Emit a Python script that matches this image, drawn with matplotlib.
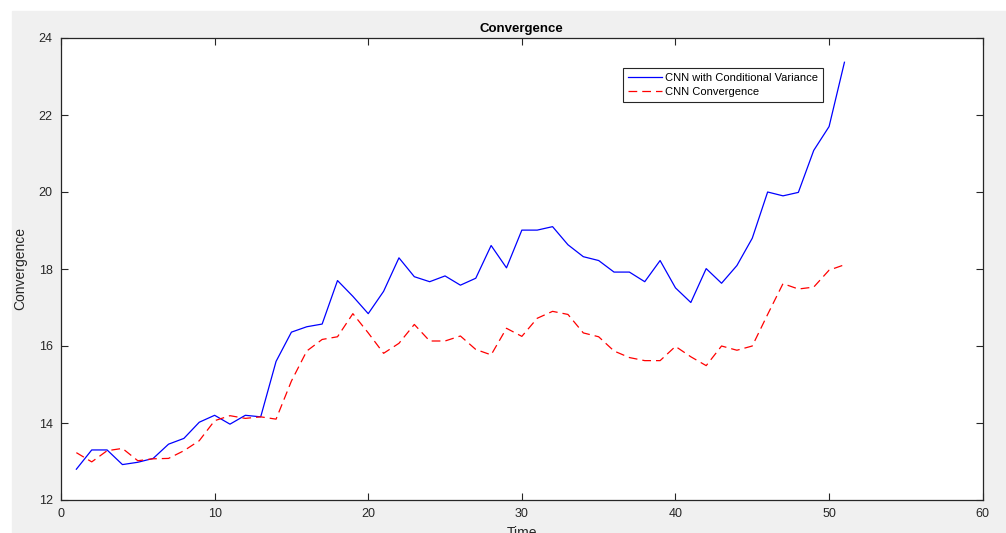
import numpy as np
import matplotlib
matplotlib.use("Agg")
import matplotlib.pyplot as plt
from matplotlib.patches import Rectangle

# valores (t = 1..51)
tempo = list(range(1, 52))
cnn_var = [12.80, 13.30, 13.30, 12.92, 12.98, 13.08, 13.45, 13.60, 14.02, 14.20,
           13.97, 14.20, 14.16, 15.60, 16.36, 16.50, 16.57, 17.70, 17.29, 16.84,
           17.42, 18.29, 17.80, 17.67, 17.82, 17.58, 17.76, 18.61, 18.03, 19.01,
           19.01, 19.10, 18.63, 18.32, 18.22, 17.92, 17.92, 17.67, 18.22, 17.51,
           17.13, 18.01, 17.63, 18.09, 18.80, 20.00, 19.90, 19.99, 21.08, 21.70,
           23.37]
cnn_conv = [13.23, 12.99, 13.28, 13.34, 13.02, 13.07, 13.08, 13.28, 13.54, 14.06,
            14.19, 14.12, 14.16, 14.10, 15.09, 15.87, 16.17, 16.24, 16.84, 16.34,
            15.81, 16.07, 16.56, 16.13, 16.13, 16.26, 15.91, 15.77, 16.46, 16.25,
            16.72, 16.90, 16.82, 16.34, 16.24, 15.87, 15.70, 15.62, 15.62, 15.99,
            15.72, 15.49, 16.00, 15.89, 16.00, 16.82, 17.62, 17.48, 17.53, 17.97,
            18.11]

plt.rcParams['font.family'] = ['Liberation Sans', 'DejaVu Sans']
cor_txt = '#262626'

fig = plt.figure(figsize=(10.06, 5.33), dpi=100, facecolor='white')
# fundo cinza estilo MATLAB
fig.patches.append(Rectangle((12 / 1006, 0), 1, (533 - 11) / 533,
                             transform=fig.transFigure, color='#f0f0f0', zorder=-10))

ax = fig.add_axes([61 / 1006, 33 / 533, 921.7 / 1006, 462 / 533])
ax.plot(tempo, cnn_var, color='#0000ff', lw=0.9, label='CNN with Conditional Variance')
ax.plot(tempo, cnn_conv, color='#ff0000', lw=0.9, ls=(0, (7, 4)), label='CNN Convergence')

ax.set_xlim(0, 60)
ax.set_ylim(12, 24)
ax.set_xticks(np.arange(0, 61, 10))
ax.set_yticks(np.arange(12, 25, 2))
ax.tick_params(direction='in', length=5, width=0.8, top=True, right=True,
               labelsize=9, colors=cor_txt, pad=6)
for s in ax.spines.values():
    s.set_color(cor_txt)
    s.set_linewidth(0.9)

ax.set_title('Convergence', fontsize=9.5, fontweight='bold', color='black', pad=4)
ax.set_xlabel('Time', fontsize=10, color=cor_txt, labelpad=4)
ax.set_ylabel('Convergence', fontsize=10, color=cor_txt, labelpad=8)

leg = ax.legend(loc='upper left', bbox_to_anchor=(0.61, 0.935), fontsize=8,
                fancybox=False, framealpha=1, edgecolor=cor_txt, handlelength=3.0,
                borderpad=0.45, labelspacing=0.35, handletextpad=0.35, borderaxespad=0)
leg.get_frame().set_linewidth(0.8)

fig.savefig('out.png', dpi=100)
